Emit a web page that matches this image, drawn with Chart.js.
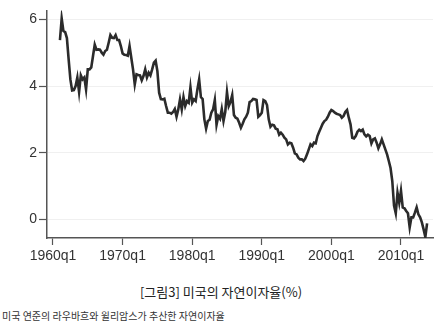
<!DOCTYPE html>
<html><head><meta charset="utf-8">
<script src="https://cdn.jsdelivr.net/npm/chart.js@4"></script>
<style>
html,body{margin:0;padding:0;background:#fff;}
#wrap{position:relative;width:438px;height:327px;overflow:hidden;}
#cw{position:absolute;left:0;top:0;width:438px;height:272px;}
#title{position:absolute;left:2px;width:438px;top:284px;line-height:16px;text-align:center;font-size:13px;font-family:"Noto Sans CJK KR",sans-serif;color:#222;}
#note{position:absolute;left:2px;top:310px;line-height:12px;font-size:10px;font-family:"Noto Sans CJK KR",sans-serif;color:#333;white-space:nowrap;}
</style></head>
<body>
<div id="wrap">
<div id="cw"><canvas id="c"></canvas></div>
<div id="title">[그림3] 미국의 자연이자율(%)</div>
<div id="note">미국 연준의 라우바흐와 윌리암스가 추산한 자연이자율</div>
</div>
<script>
const startYear = 1961; // first quarter: 1961q1
const naturalRate = [
 5.38, 6.03, 5.65, 5.62,
 5.44, 4.8, 4.2, 3.87,
 3.88, 4.0, 4.26, 3.82,
 4.32, 4.2, 4.26, 3.9,
 4.5, 4.5, 4.56, 4.9,
 5.24, 5.09, 5.1, 5.09,
 5.0, 4.94, 5.05, 5.09,
 5.3, 5.53, 5.45, 5.44,
 5.53, 5.38, 5.38, 5.2,
 4.98, 4.94, 4.93, 4.91,
 5.2, 4.85, 4.5, 4.05,
 4.35, 4.33, 4.32, 4.17,
 4.3, 4.5, 4.26, 4.4,
 4.32, 4.5, 4.7, 4.76,
 4.45, 3.8, 3.61, 3.6,
 3.62, 3.4, 3.2, 3.2,
 3.17, 3.22, 3.31, 3.08,
 3.3, 3.6, 3.3, 3.67,
 3.4, 3.55, 3.5, 3.96,
 3.5, 3.6, 3.55, 3.9,
 4.2, 3.67, 3.61, 3.0,
 2.72, 2.95, 2.99, 3.2,
 3.3, 3.58, 2.84, 3.1,
 3.02, 3.31, 2.95, 3.22,
 3.82, 3.4, 3.52, 3.73,
 3.13, 3.05, 3.02, 2.9,
 2.75, 2.87, 3.0, 3.08,
 3.2, 3.52, 3.55, 3.61,
 3.6, 3.58, 3.08, 3.13,
 3.2, 3.58, 3.55, 3.43,
 3.0, 2.78, 2.84, 2.82,
 2.72, 2.7, 2.54, 2.6,
 2.54, 2.45, 2.4, 2.25,
 2.3, 2.28, 2.15, 1.98,
 1.95, 1.85, 1.8, 1.8,
 1.75, 1.82, 1.95, 2.1,
 2.25, 2.2, 2.3, 2.28,
 2.5, 2.63, 2.75, 2.87,
 2.95, 2.99, 3.08, 3.2,
 3.28, 3.25, 3.2, 3.17,
 3.15, 3.13, 3.05, 3.1,
 3.22, 3.28, 3.05, 2.85,
 2.45, 2.43, 2.5, 2.63,
 2.69, 2.65, 2.69, 2.55,
 2.49, 2.54, 2.5, 2.28,
 2.4, 2.43, 2.3, 2.13,
 2.25, 2.4, 2.25, 2.1,
 1.95, 1.75, 1.54, 1.15,
 0.41, 0.18, 0.8, 0.5,
 0.86, 0.36, 0.33, 0.25,
 0.18, -0.24, 0.06, 0.06,
 0.2, 0.36, 0.15, 0.06,
 -0.09, -0.3, -0.53, -0.12
];
const xTickYears = [1960, 1970, 1980, 1990, 2000, 2010];
const xTickLabels = ['1960q1', '1970q1', '1980q1', '1990q1', '2000q1', '2010q1'];
const yTicks = [0, 2, 4, 6];

const points = naturalRate.map((v, i) => ({ x: startYear + i / 4, y: v }));

new Chart(document.getElementById('c'), {
  type: 'line',
  data: { datasets: [{ data: points, borderColor: '#2b2b2b', borderWidth: 2.6, pointRadius: 0, tension: 0, fill: false }] },
  options: {
    responsive: true, maintainAspectRatio: false, animation: false,
    layout: { padding: { left: 0, right: 5, top: 7, bottom: 0 } },
    plugins: { legend: { display: false }, tooltip: { enabled: false } },
    scales: {
      x: {
        type: 'linear', min: 1959.14, max: 2014.6,
        afterBuildTicks: s => { s.ticks = xTickYears.map(v => ({ value: v })); },
        afterFit: s => { s.height = 34; },
        ticks: { callback: (v) => xTickLabels[xTickYears.indexOf(v)], color: '#333', font: { family: 'Liberation Sans', size: 14 }, padding: 3, maxRotation: 0, autoSkip: false },
        grid: { drawOnChartArea: false, drawTicks: true, tickLength: 7, tickColor: '#555', tickWidth: 1.2 },
        border: { color: '#555', width: 1.5 }
      },
      y: {
        min: -0.56, max: 6.27,
        afterBuildTicks: s => { s.ticks = yTicks.map(v => ({ value: v })); },
        afterFit: s => { s.width = 47; },
        ticks: { color: '#333', font: { family: 'Liberation Sans', size: 14 }, padding: 2 },
        grid: { color: '#f0f0f0', lineWidth: 1, tickLength: 8, tickColor: '#555', tickWidth: 1.2 },
        border: { color: '#555', width: 1.5 }
      }
    }
  }
});
</script>
</body></html>
